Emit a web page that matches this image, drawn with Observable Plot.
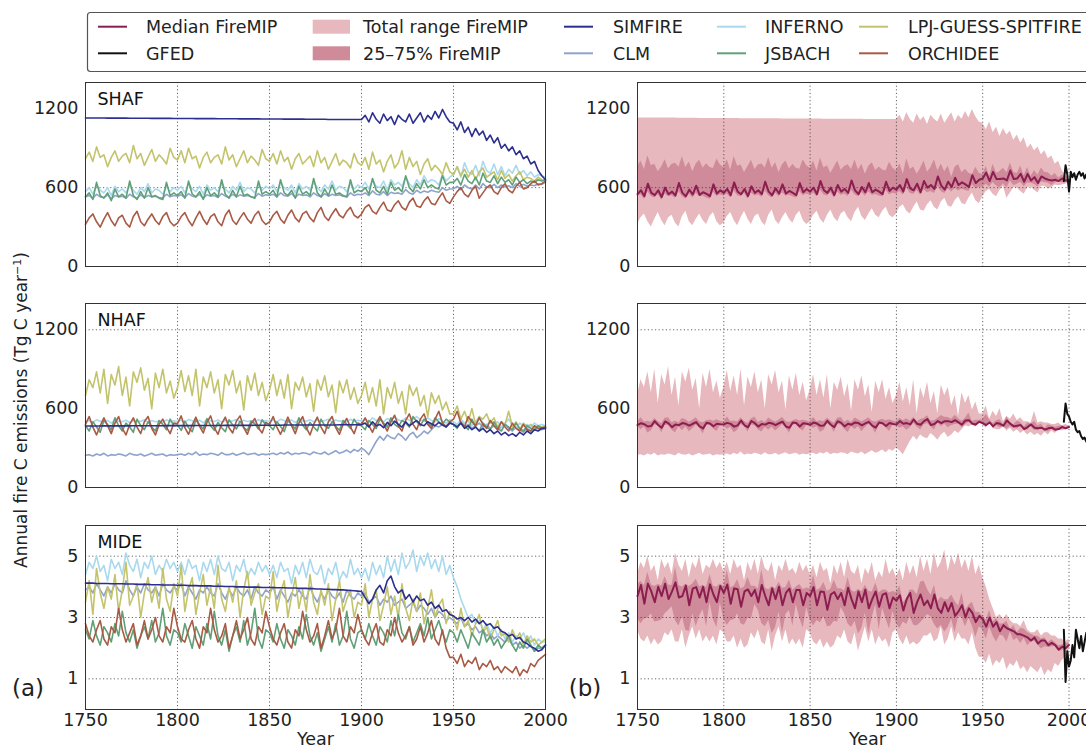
<!DOCTYPE html>
<html><head><meta charset="utf-8">
<script src="https://cdn.jsdelivr.net/npm/d3@7"></script>
<script src="https://cdn.jsdelivr.net/npm/@observablehq/plot@0.6"></script>
<style>
body{margin:0;background:#fff;overflow:hidden}
#root{position:relative;width:1086px;height:750px;overflow:hidden;font-family:"DejaVu Sans",sans-serif;color:#222}
.abs{position:absolute}
.abs svg{max-width:none !important}
</style></head><body><div id="root"></div>
<script>
// ---------- categories ----------
const years = d3.range(1750, 2001, 2);            // model years
const gfedYears = d3.range(1997, 2017);           // GFED years
const regions = ["SHAF", "NHAF", "MIDE"];
const models = ["SIMFIRE", "CLM", "INFERNO", "JSBACH", "LPJ-GUESS-SPITFIRE", "ORCHIDEE"];
const modelColors = ["#2d2f8e", "#8ea4cc", "#a8d9ee", "#5fa077", "#c3c36c", "#a85a44"];
const drawOrder = ["CLM", "INFERNO", "LPJ-GUESS-SPITFIRE", "JSBACH", "ORCHIDEE", "SIMFIRE"];
const xTickLabels = [1750, 1800, 1850, 1900, 1950, 2000];
const yTicksTg = [0, 600, 1200];
const yTicksMide = [1, 3, 5];
const yGridLines = {SHAF: [600], NHAF: [1200], MIDE: [1, 3, 5]};

// ---------- SHAF ----------
const shafSIMFIRE = [1130,1130,1130,1130,1130,1130,1129,1129,1129,1129,1129,1129,1128,1128,1128,1128,1128,1128,1127,1127,1127,1127,1127,1127,1126,
1126,1126,1126,1126,1126,1125,1125,1125,1125,1125,1125,1124,1124,1124,1124,1124,1124,1123,1123,1123,1123,1123,1123,1122,1122,
1122,1122,1122,1122,1121,1121,1121,1121,1121,1121,1120,1120,1120,1120,1120,1120,1119,1119,1119,1119,1119,1119,1118,1118,1118,
1118,1150,1100,1170,1120,1090,1160,1110,1140,1080,1150,1120,1100,1160,1090,1130,1170,1100,1150,1120,1180,1130,1195,1140,1100,
1090,1040,1100,1020,1060,990,1050,1000,1030,960,1000,940,980,900,930,880,910,850,880,820,840,780,800,730,690,660];
const shafCLM = [530,540,520,550,530,525,545,515,540,530,535,520,550,530,520,545,525,540,530,535,525,520,550,530,540,
535,545,525,555,535,530,550,520,545,535,540,525,555,535,525,550,530,545,535,540,530,525,555,535,545,
540,550,530,560,540,535,555,525,550,540,545,530,560,540,530,555,535,550,540,545,535,530,560,540,550,
545,560,540,575,550,545,570,540,565,555,560,550,585,560,550,580,560,575,565,580,570,565,600,580,590,
590,610,585,620,600,590,620,590,630,605,600,625,600,620,605,615,600,630,610,625,610,620,615,630,625,640];
const shafINFERNO = [570,600,550,620,580,560,600,540,610,570,590,560,620,580,550,600,570,630,560,590,580,550,610,570,600,
580,610,560,630,590,570,610,550,620,580,600,570,630,590,560,610,580,640,570,600,590,560,620,580,610,
590,620,570,640,600,580,620,560,630,590,610,580,640,600,570,620,590,650,580,610,600,570,630,590,620,
600,640,590,660,610,600,650,580,660,620,640,610,680,630,600,660,620,690,640,660,650,620,700,650,680,
700,760,680,790,720,700,770,690,800,730,710,780,700,760,690,740,710,770,700,730,690,720,680,700,690,680];
const shafJSBACH = [530,560,510,640,540,520,560,500,590,530,550,520,650,540,510,570,520,600,530,540,520,510,640,540,560,
540,570,520,650,550,530,570,510,600,540,560,530,660,550,520,580,530,610,540,550,530,520,650,550,570,
550,580,530,660,560,540,580,520,610,550,570,540,670,560,530,590,540,620,550,560,540,530,660,560,580,
570,600,550,670,580,560,610,550,640,580,600,570,690,600,570,630,590,660,600,620,600,590,690,620,640,
640,670,620,700,650,630,680,620,710,650,640,690,630,680,640,660,620,680,640,660,630,650,640,660,650,660];
const shafLPJ = [820,870,800,910,830,850,760,830,880,800,840,860,790,920,820,860,770,830,890,800,850,820,780,900,830,
810,880,790,900,820,840,750,830,870,790,830,850,780,910,810,850,760,820,880,790,840,810,770,890,820,
800,860,780,880,800,830,740,820,860,780,810,840,760,880,790,830,740,800,860,770,810,790,750,860,790,
770,830,740,870,780,810,720,800,850,750,790,880,740,830,760,800,700,780,820,730,770,740,700,790,720,
700,760,690,740,680,730,660,720,750,680,700,720,660,730,670,700,650,690,720,660,680,670,650,680,660,650];
const shafORCHIDEE = [320,370,400,340,300,360,410,350,310,370,390,330,300,380,420,340,310,360,400,350,320,380,410,340,310,
330,380,410,350,310,370,420,360,320,380,400,340,310,390,430,350,320,370,410,360,330,390,420,350,320,
340,390,420,360,330,390,430,370,340,400,420,370,340,410,450,380,350,400,440,390,370,420,450,390,370,
400,450,470,420,400,450,490,430,420,470,500,450,430,490,520,460,450,500,530,480,470,520,560,500,480,
530,570,600,550,530,580,610,520,560,600,620,570,550,600,630,580,560,610,640,590,600,630,650,620,630,650];
const shafGFED = [650,770,700,570,720,680,710,660,700,720,690,710,670,700,680,700,660,690,650,680];

// ---------- NHAF ----------
const nhafSIMFIRE = [468,468,468,468,468,469,469,469,469,469,469,469,469,470,470,470,470,470,470,470,470,470,471,471,471,
471,471,471,471,471,472,472,472,472,472,472,472,472,473,473,473,473,473,473,473,473,474,474,474,474,
474,474,474,474,475,475,475,475,475,475,475,475,476,476,476,476,476,476,476,477,477,477,477,477,477,
477,490,460,500,470,480,455,495,470,505,480,460,500,470,490,510,480,470,500,485,470,495,475,460,490,
480,460,490,450,470,440,460,430,450,420,440,410,430,400,420,395,410,390,420,400,430,410,440,430,450,450];
const nhafCLM = [245,250,240,255,245,260,240,250,245,255,250,240,260,250,245,255,240,250,260,245,250,255,240,250,245,
250,255,245,260,250,270,245,255,250,260,255,245,265,250,250,260,245,255,265,250,255,260,245,255,250,
255,260,250,265,255,270,250,260,255,265,260,250,270,260,255,270,250,265,280,260,270,285,265,290,275,
300,280,250,300,350,390,360,400,380,370,410,390,360,400,420,380,400,430,410,440,470,460,480,470,490,
480,470,490,460,480,450,470,490,460,480,450,470,440,460,480,450,430,460,440,420,450,430,440,450,440,450];
const nhafINFERNO = [500,510,495,515,505,500,510,490,515,505,500,512,495,510,500,505,515,495,510,500,505,495,515,500,508,
502,512,497,517,507,502,512,492,517,507,502,514,497,512,502,507,517,497,512,502,507,497,517,502,510,
504,514,499,519,509,504,514,494,519,509,504,516,499,514,504,509,519,499,514,504,509,499,519,504,512,
505,520,500,530,510,515,500,525,510,535,515,505,530,510,520,540,515,505,530,510,500,525,505,490,515,
500,480,520,490,510,470,500,540,490,470,510,480,500,460,490,520,470,450,490,470,480,460,490,470,480,470];
const nhafJSBACH = [470,430,500,460,420,510,480,440,530,470,430,490,460,420,520,470,440,500,460,430,510,480,440,520,470,
475,435,505,455,425,515,475,445,525,470,435,495,455,425,515,475,445,505,455,435,505,485,445,515,475,
470,440,500,465,425,510,480,445,530,475,440,495,460,430,520,470,450,500,465,435,510,480,450,520,475,
470,440,510,480,450,520,490,460,530,480,460,510,490,460,540,500,470,520,490,470,530,500,480,520,500,
480,450,500,470,440,520,460,430,490,460,440,500,450,430,480,460,440,490,450,430,470,450,440,470,450,460];
const nhafLPJ = [700,820,760,880,720,900,640,860,780,920,700,840,620,880,800,910,740,830,600,870,760,900,720,810,680,
760,890,730,850,700,900,620,840,760,880,720,820,600,860,780,890,720,810,590,850,740,870,700,800,660,
740,860,700,820,680,860,600,800,740,840,690,790,580,820,740,850,690,780,570,810,720,820,670,760,640,
700,800,650,760,620,820,560,760,680,800,640,730,560,780,700,760,620,700,540,720,640,700,590,650,560,
560,620,520,580,500,600,480,540,520,560,490,530,460,500,480,580,460,500,440,490,460,480,450,470,460,470];
const nhafORCHIDEE = [480,540,460,400,470,530,470,410,490,540,450,400,480,530,460,410,500,540,450,400,480,520,460,410,490,
485,545,455,405,475,535,465,415,495,545,455,405,485,535,455,415,505,545,455,405,485,525,455,415,495,
480,540,460,405,470,535,470,410,490,540,455,400,480,535,460,410,500,540,455,405,480,525,460,410,490,
480,530,470,420,490,540,480,430,500,550,470,430,510,560,480,440,520,560,480,450,520,580,490,460,500,
520,580,490,460,540,500,470,530,480,450,510,470,440,500,460,430,490,450,430,480,440,430,470,450,450,460];
const nhafGFED = [500,640,560,540,500,480,500,440,420,430,390,370,380,350,360,340,330,320,330,320];

// ---------- MIDE ----------
const mideSIMFIRE = [4.12,4.12,4.12,4.11,4.11,4.11,4.11,4.10,4.10,4.10,4.10,4.09,4.09,4.09,4.08,4.08,4.08,4.08,4.07,4.07,4.07,4.06,4.06,4.06,4.06,
4.05,4.05,4.05,4.04,4.04,4.04,4.03,4.03,4.03,4.03,4.02,4.02,4.02,4.01,4.01,4.01,4.0,4.0,4.0,3.99,3.99,3.99,3.99,3.98,3.98,
3.98,3.98,3.97,3.97,3.97,3.96,3.96,3.96,3.95,3.95,3.95,3.94,3.94,3.93,3.93,3.92,3.92,3.91,3.91,3.90,3.90,3.89,3.88,3.87,3.86,
3.85,3.65,3.45,3.6,3.9,4.05,3.8,4.2,4.35,4.0,3.8,3.9,3.6,3.75,3.5,3.7,3.55,3.6,3.4,3.5,3.3,3.4,3.2,3.25,3.1,
3.05,2.95,3.0,2.9,3.0,2.85,2.95,2.8,2.9,2.75,2.8,2.65,2.7,2.55,2.5,2.4,2.45,2.3,2.35,2.2,2.15,2.05,2.0,1.9,1.95,2.1];
const mideCLM = [3.9,4.0,3.8,4.1,3.9,3.7,4.0,3.8,4.1,3.9,3.8,4.2,3.9,3.7,4.0,3.8,4.1,3.9,3.8,4.0,3.7,4.1,3.9,3.8,4.0,
3.9,4.1,3.7,4.0,3.8,3.6,3.9,3.8,4.0,3.8,3.7,4.1,3.8,3.6,3.9,3.7,4.0,3.8,3.7,3.9,3.6,4.0,3.8,3.7,3.9,
3.8,4.0,3.6,3.9,3.7,3.5,3.8,3.7,3.9,3.7,3.6,4.0,3.7,3.5,3.8,3.6,3.9,3.7,3.6,3.8,3.5,3.9,3.7,3.6,3.8,
3.7,3.8,3.5,3.6,3.7,3.4,3.6,3.5,3.7,3.4,3.5,3.6,3.3,3.4,3.5,3.2,3.4,3.3,3.1,3.3,3.0,3.2,3.1,2.9,3.0,
2.9,2.8,3.0,2.7,2.8,2.6,2.7,2.5,2.6,2.4,2.5,2.3,2.4,2.3,2.2,2.3,2.1,2.2,2.0,2.1,2.0,2.1,1.9,2.0,2.0,2.1];
const mideINFERNO = [4.4,4.8,4.6,5.0,4.5,4.7,4.2,4.9,4.6,4.8,4.4,5.1,4.7,4.5,4.9,4.3,4.8,4.6,5.0,4.4,4.7,4.5,4.9,4.6,4.8,
4.5,4.8,4.4,4.9,4.6,4.7,4.2,4.8,4.5,4.9,4.4,5.0,4.6,4.5,4.8,4.2,4.7,4.5,4.9,4.3,4.6,4.4,4.8,4.5,4.7,
4.4,4.7,4.3,4.8,4.5,4.6,4.1,4.7,4.4,4.8,4.3,4.9,4.5,4.4,4.7,4.1,4.6,4.4,4.8,4.2,4.5,4.3,4.9,4.4,4.6,
4.3,4.6,4.2,4.8,4.4,4.7,4.3,5.0,4.5,4.9,4.4,5.1,4.6,4.8,5.2,4.5,5.0,4.7,5.1,4.6,4.9,4.5,5.0,4.4,4.7,
4.3,4.0,3.6,3.3,3.0,3.1,2.8,2.9,2.6,2.8,2.5,2.7,2.4,2.6,2.3,2.5,2.2,2.4,2.3,2.5,2.2,2.4,2.1,2.3,2.2,2.2];
const mideJSBACH = [2.6,2.3,2.9,2.4,2.1,2.7,2.5,2.2,2.8,2.4,3.2,2.5,2.2,2.6,2.0,2.4,2.7,2.3,2.9,2.2,2.5,3.3,2.4,2.1,2.6,
2.5,2.2,2.8,2.4,2.0,2.7,2.4,2.1,2.8,2.3,3.2,2.4,2.1,2.6,1.9,2.4,2.7,2.2,2.9,2.1,2.5,3.3,2.3,2.0,2.6,
2.5,2.2,2.8,2.3,2.0,2.6,2.4,2.1,2.7,2.3,3.1,2.4,2.1,2.5,1.9,2.3,2.7,2.2,2.8,2.1,2.4,3.2,2.3,2.0,2.5,
2.6,2.3,2.8,2.4,2.1,2.7,2.5,2.2,2.9,2.4,3.1,2.5,2.3,2.7,2.2,2.5,2.8,2.4,3.0,2.3,2.6,2.9,2.5,2.2,2.6,
2.5,2.2,2.6,2.3,2.0,2.5,2.3,2.1,2.6,2.2,2.4,2.1,2.3,2.0,2.2,2.4,2.1,1.9,2.2,2.0,2.3,2.1,1.9,2.1,2.0,2.1];
const mideLPJ = [3.5,4.2,3.1,4.6,3.8,3.3,4.0,3.6,4.4,3.2,3.9,4.8,3.4,3.7,4.1,3.0,3.8,4.3,3.5,4.0,3.3,4.6,3.6,3.2,4.1,
3.7,4.7,3.2,3.9,4.3,3.1,3.8,4.4,3.4,4.0,3.3,4.7,3.6,3.2,4.0,3.5,4.2,3.0,3.9,4.5,3.4,3.8,4.1,3.1,3.7,
3.6,4.5,3.2,3.8,4.2,3.0,3.7,4.3,3.3,3.9,3.2,4.4,3.5,3.1,3.9,3.4,4.1,2.9,3.6,4.2,3.2,3.6,3.9,3.0,3.5,
3.4,4.1,3.0,3.6,3.9,2.9,3.4,4.0,3.1,3.7,3.0,4.1,3.3,2.9,3.6,3.2,3.8,2.8,3.3,3.9,3.0,3.4,3.6,2.8,3.2,
3.0,2.6,3.3,2.7,2.9,2.4,2.8,3.1,2.5,2.7,2.3,2.6,2.9,2.4,2.5,2.2,2.6,2.3,2.5,2.1,2.4,2.2,2.3,2.1,2.2,2.3];
const mideORCHIDEE = [2.8,2.4,2.2,2.6,2.9,2.3,2.1,2.7,2.5,3.3,2.6,2.2,2.5,2.8,2.1,2.4,2.9,2.3,2.6,3.0,2.4,2.2,2.7,2.5,3.3,
2.7,2.3,2.2,2.6,2.9,2.3,2.0,2.7,2.5,3.3,2.6,2.2,2.4,2.8,2.0,2.4,2.9,2.3,2.6,3.0,2.3,2.1,2.7,2.5,3.2,
2.7,2.3,2.1,2.5,2.8,2.2,2.0,2.6,2.4,3.2,2.6,2.2,2.4,2.8,2.0,2.4,2.9,2.3,2.6,3.3,2.4,2.2,2.7,2.5,3.1,
2.6,2.3,2.1,2.5,2.8,2.2,2.1,2.6,2.4,3.0,2.5,2.2,2.4,2.7,2.1,2.3,2.7,2.2,2.5,2.9,2.3,2.1,2.6,2.0,1.7,
1.7,1.5,1.8,1.4,1.6,1.5,1.7,1.3,1.5,1.4,1.6,1.3,1.4,1.2,1.4,1.3,1.2,1.4,1.1,1.3,1.2,1.5,1.4,1.6,1.7,1.8];
const mideGFED = [2.6,0.9,1.9,1.4,1.6,2.1,1.7,2.6,2.3,2.0,2.4,1.9,2.2,2.5,2.1,2.3,2.0,2.2,2.4,2.1];

// ---------- colours of the summary series ----------
const medianColor = "#8c1d50", rangeColor = "#e7b8bd", iqrColor = "#cf8b9a", gfedColor = "#111111";

// ---------- tables built from the arrays ----------
const series = {
  SHAF: {SIMFIRE: shafSIMFIRE, CLM: shafCLM, INFERNO: shafINFERNO, JSBACH: shafJSBACH, "LPJ-GUESS-SPITFIRE": shafLPJ, ORCHIDEE: shafORCHIDEE},
  NHAF: {SIMFIRE: nhafSIMFIRE, CLM: nhafCLM, INFERNO: nhafINFERNO, JSBACH: nhafJSBACH, "LPJ-GUESS-SPITFIRE": nhafLPJ, ORCHIDEE: nhafORCHIDEE},
  MIDE: {SIMFIRE: mideSIMFIRE, CLM: mideCLM, INFERNO: mideINFERNO, JSBACH: mideJSBACH, "LPJ-GUESS-SPITFIRE": mideLPJ, ORCHIDEE: mideORCHIDEE}
};
const gfed = {SHAF: shafGFED, NHAF: nhafGFED, MIDE: mideGFED};

function longRows(region) {
  const rows = [];
  for (const m of drawOrder) series[region][m].forEach((v, i) => rows.push({model: m, year: years[i], value: v}));
  return rows;
}
function statRows(region) {
  return years.map((yr, i) => {
    const v = models.map(m => series[region][m][i]).filter(d => d != null);
    return {year: yr, lo: d3.min(v), hi: d3.max(v), q1: d3.quantile(v, 0.25), q3: d3.quantile(v, 0.75), med: d3.median(v)};
  });
}
function gfedRows(region) { return gfed[region].map((v, i) => ({year: gfedYears[i], value: v})); }

// ---------- layout ----------
const root = document.getElementById("root");
const PW = 460, PH = 184, ML = 70, MR = 14, MT = 10;
const frameTops = [82, 303.3, 525];
const frameLefts = [85, 636.7];

function makePanel(region, row, col) {
  const bottom = row === 2;
  const MB = bottom ? 48 : 10;
  const mide = region === "MIDE";
  const xDomain = col === 0 ? [1750, 2000] : [1750, 2016.5];
  const yDomain = mide ? [0, 6] : [0, 1400];
  const yTicks = mide ? yTicksMide : yTicksTg;
  const xGrid = col === 0 ? [1800, 1850, 1900, 1950] : [1800, 1850, 1900, 1950, 2000];
  const yGrid = yGridLines[region];
  const grid = {stroke: "#333", strokeOpacity: 0.75, strokeWidth: 1, strokeDasharray: "1.2,2.4"};
  const marks = [];
  if (col === 1) {
    const st = statRows(region);
    marks.push(Plot.areaY(st, {x: "year", y1: "lo", y2: "hi", fill: rangeColor}));
    marks.push(Plot.areaY(st, {x: "year", y1: "q1", y2: "q3", fill: iqrColor}));
  }
  marks.push(Plot.ruleX(xGrid, grid));
  marks.push(Plot.ruleY(yGrid, grid));
  if (col === 0) {
    marks.push(Plot.lineY(longRows(region), {
      x: "year", y: "value", z: "model", stroke: "model", strokeWidth: 1.6, curve: "linear"
    }));
    marks.push(Plot.text([region], {frameAnchor: "top-left", textAnchor: "start", lineAnchor: "top", dx: 12, dy: 10, fontSize: 17.5, fill: "#111"}));
  } else {
    const st = statRows(region);
    marks.push(Plot.lineY(st, {x: "year", y: "med", stroke: medianColor, strokeWidth: 2}));
    marks.push(Plot.lineY(gfedRows(region), {x: "year", y: "value", stroke: gfedColor, strokeWidth: 2}));
  }
  marks.push(Plot.frame({stroke: "#333", strokeWidth: 1}));
  if (bottom) marks.push(Plot.text(["Year"], {frameAnchor: "bottom", textAnchor: "middle", lineAnchor: "middle", dy: 30, fontSize: 17.5, fill: "#222"}));

  const w = ML + PW + MR, h = MT + PH + MB;
  const svg = Plot.plot({
    width: w, height: h,
    marginLeft: ML, marginRight: MR, marginTop: MT, marginBottom: MB,
    style: {fontSize: "17.5px", fontFamily: "DejaVu Sans, sans-serif", color: "#222", background: "transparent", overflow: "visible", maxWidth: "none"},
    x: {domain: xDomain, ticks: xTickLabels, tickFormat: d => String(d), tickSize: 0, tickPadding: 4, label: null, axis: bottom ? "bottom" : null},
    y: {domain: yDomain, ticks: yTicks, tickFormat: d => String(d), tickSize: 0, tickPadding: 7, label: null},
    color: {domain: models, range: modelColors},
    marks
  });
  svg.style.maxWidth = "none";
  svg.style.width = w + "px";
  svg.style.height = h + "px";
  const wrap = document.createElement("div");
  wrap.className = "abs";
  wrap.style.left = (frameLefts[col] - ML) + "px";
  wrap.style.top = (frameTops[row] - MT) + "px";
  wrap.style.width = w + "px";
  wrap.style.height = h + "px";
  wrap.appendChild(svg);
  root.appendChild(wrap);
}
regions.forEach((r, row) => { makePanel(r, row, 0); makePanel(r, row, 1); });

// ---------- legend ----------
const legend = d3.select(root).append("svg").attr("class", "abs")
  .attr("width", 1086).attr("height", 80).style("left", "0px").style("top", "0px")
  .style("font-family", "DejaVu Sans, sans-serif").style("font-size", "17.5px");
legend.append("rect").attr("x", 87.5).attr("y", 12.5).attr("width", 1100).attr("height", 59).attr("rx", 3)
  .attr("fill", "#fff").attr("stroke", "#555").attr("stroke-width", 1.2);
const rowsY = [26.7, 53.3];
const legendItems = [
  {label: "Median FireMIP", kind: "line", color: medianColor, x0: 98, x1: 127, tx: 146, r: 0},
  {label: "GFED", kind: "line", color: gfedColor, x0: 98, x1: 127, tx: 146, r: 1},
  {label: "Total range FireMIP", kind: "patch", color: rangeColor, x0: 312.7, x1: 350, tx: 363, r: 0},
  {label: "25–75% FireMIP", kind: "patch", color: iqrColor, x0: 312.7, x1: 350, tx: 363, r: 1},
  {label: models[0], kind: "line", color: modelColors[0], x0: 564, x1: 593, tx: 613, r: 0},
  {label: models[1], kind: "line", color: modelColors[1], x0: 564, x1: 593, tx: 613, r: 1},
  {label: models[2], kind: "line", color: modelColors[2], x0: 717, x1: 746, tx: 765, r: 0},
  {label: models[3], kind: "line", color: modelColors[3], x0: 717, x1: 746, tx: 765, r: 1},
  {label: models[4], kind: "line", color: modelColors[4], x0: 859, x1: 888, tx: 908, r: 0},
  {label: models[5], kind: "line", color: modelColors[5], x0: 859, x1: 888, tx: 908, r: 1}
];
for (const it of legendItems) {
  const y = rowsY[it.r];
  if (it.kind === "line") {
    legend.append("line").attr("x1", it.x0).attr("x2", it.x1).attr("y1", y).attr("y2", y)
      .attr("stroke", it.color).attr("stroke-width", 2);
  } else {
    legend.append("rect").attr("x", it.x0).attr("y", y - 7).attr("width", it.x1 - it.x0).attr("height", 14).attr("fill", it.color);
  }
  legend.append("text").attr("x", it.tx).attr("y", y).attr("dy", "0.36em").attr("fill", "#222").text(it.label);
}

// ---------- shared y label and panel letters ----------
const ylab = document.createElement("div");
ylab.className = "abs";
ylab.style.cssText = "left:21px;top:410px;transform:translate(-50%,-50%) rotate(-90deg);white-space:nowrap;font-size:17px;";
ylab.innerHTML = "Annual fire C emissions (Tg C year<sup style='font-size:11px'>−1</sup>)";
root.appendChild(ylab);
for (const [txt, cx] of [["(a)", 28], ["(b)", 585]]) {
  const d = document.createElement("div");
  d.className = "abs";
  d.style.cssText = `left:${cx}px;top:688px;transform:translate(-50%,-50%);font-size:23px;white-space:nowrap;`;
  d.textContent = txt;
  root.appendChild(d);
}
</script></body></html>
